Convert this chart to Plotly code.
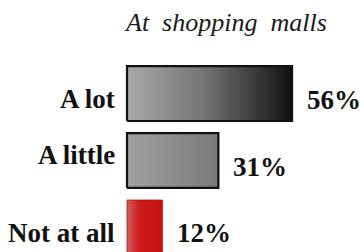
import plotly.graph_objects as go

title = "At  shopping  malls"
categories = ["A lot", "A little", "Not at all"]
values = [56, 31, 12]

# layout / style settings (not data)
positions = [2, 1, 0]
label_yshift = [-5, 6, -6]
gradients = [
    [[0, "#a9a9a9"], [0.45, "#767676"], [1, "#121212"]],
    [[0, "#a0a0a0"], [1, "#7a7a7a"]],
    [[0, "#dd5a5a"], [0.35, "#cc1c1c"], [1, "#c81010"]],
]
outline = ["#111111", "#111111", "#b01010"]
outline_w = [2.2, 2.2, 0.8]

HALF = 0.41
fig = go.Figure()
for cat, v, p, ys, g, oc, ow in zip(categories, values, positions, label_yshift, gradients, outline, outline_w):
    fig.add_trace(go.Scatter(
        x=[0, v, v, 0, 0],
        y=[p - HALF, p - HALF, p + HALF, p + HALF, p - HALF],
        mode="lines", fill="toself",
        fillgradient=dict(type="horizontal", colorscale=g),
        line=dict(color=oc, width=ow),
        hoverinfo="skip", showlegend=False,
    ))
    fig.add_annotation(x=0, y=p, xref="x", yref="y", text=f"<b>{cat}</b>",
                       showarrow=False, xanchor="right", yanchor="middle",
                       xshift=-10, yshift=ys,
                       font=dict(family="Liberation Serif", size=27, color="#111111"))
    fig.add_annotation(x=v, y=p, xref="x", yref="y", text=f"<b>{v}%</b>",
                       showarrow=False, xanchor="left", yanchor="middle",
                       xshift=13, yshift=-6,
                       font=dict(family="Liberation Serif", size=27, color="#111111"))

fig.add_annotation(x=0.625, y=1.0, xref="paper", yref="paper", text=f"<i>{title}</i>".replace(" ", "\u00a0"),
                   showarrow=False, xanchor="center", yanchor="top", yshift=-6,
                   font=dict(family="Liberation Serif", size=26, color="#1a1a1a"))

fig.update_layout(
    width=361, height=252,
    margin=dict(l=0, r=0, t=0, b=0),
    paper_bgcolor="white", plot_bgcolor="white",
    xaxis=dict(range=[-43.1, 79.4], visible=False, fixedrange=True),
    yaxis=dict(range=[-0.366, 3.396], visible=False, fixedrange=True),
)
fig.write_html("out.html", config={"displayModeBar": False},
               post_script="document.body.style.margin='0';document.body.style.overflow='hidden';")
